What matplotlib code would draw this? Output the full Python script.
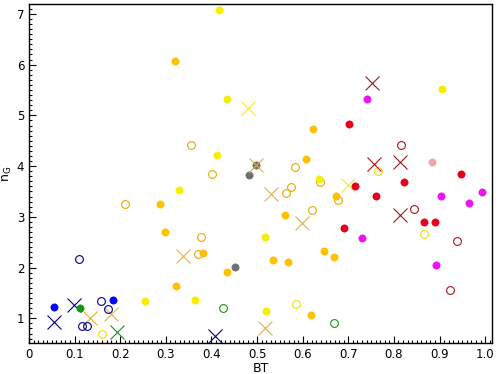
import matplotlib
matplotlib.use("Agg")
import matplotlib.pyplot as plt
from matplotlib.ticker import MultipleLocator, FixedLocator

# ---- data (BT, n_G) per group ----
blue_filled_x = [0.055, 0.184]
blue_filled_y = [1.22, 1.37]
navy_open_x = [0.110, 0.158, 0.173, 0.116, 0.127]
navy_open_y = [2.16, 1.34, 1.18, 0.84, 0.84]
navy_x_x = [0.098, 0.055, 0.408]
navy_x_y = [1.26, 0.93, 0.65]
green_filled_x = [0.112]
green_filled_y = [1.20]
green_open_x = [0.426, 0.668]
green_open_y = [1.20, 0.90]
green_x_x = [0.193]
green_x_y = [0.74]
orange_filled_x = [0.320, 0.623, 0.608, 0.674, 0.561, 0.647, 0.668, 0.535, 0.568,
                   0.618, 0.287, 0.298, 0.382, 0.433, 0.323]
orange_filled_y = [6.07, 4.73, 4.14, 3.41, 3.03, 2.32, 2.20, 2.14, 2.12,
                   1.06, 3.25, 2.70, 2.28, 1.91, 1.63]
orange_open_x = [0.355, 0.401, 0.584, 0.574, 0.563, 0.678, 0.620, 0.211, 0.377, 0.370, 0.637]
orange_open_y = [4.41, 3.84, 3.98, 3.59, 3.47, 3.33, 3.13, 3.25, 2.60, 2.26, 3.69]
orange_x_x = [0.530, 0.599, 0.337, 0.134, 0.180, 0.517, 0.497]
orange_x_y = [3.45, 2.87, 2.22, 1.00, 1.08, 0.80, 4.02]
yellow_filled_x = [0.416, 0.434, 0.906, 0.413, 0.329, 0.636, 0.517, 0.520, 0.254, 0.365]
yellow_filled_y = [7.07, 5.33, 5.52, 4.21, 3.52, 3.74, 2.60, 1.14, 1.34, 1.36]
yellow_open_x = [0.765, 0.866, 0.586, 0.160]
yellow_open_y = [3.90, 2.66, 1.28, 0.70]
yellow_x_x = [0.480, 0.699]
yellow_x_y = [5.15, 3.62]
gray_filled_x = [0.483, 0.497, 0.452]
gray_filled_y = [3.82, 4.02, 2.01]
red_filled_x = [0.702, 0.946, 0.715, 0.821, 0.761, 0.691, 0.866, 0.889]
red_filled_y = [4.83, 3.85, 3.60, 3.68, 3.41, 2.78, 2.89, 2.89]
darkred_open_x = [0.816, 0.843, 0.939, 0.922]
darkred_open_y = [4.41, 3.15, 2.52, 1.55]
darkred_x_x = [0.753, 0.756, 0.814, 0.813]
darkred_x_y = [5.63, 4.04, 4.08, 3.03]
magenta_filled_x = [0.740, 0.903, 0.994, 0.965, 0.729, 0.893]
magenta_filled_y = [5.33, 3.41, 3.49, 3.27, 2.58, 2.05]
pink_filled_x = [0.884]
pink_filled_y = [4.08]

fig = plt.figure(figsize=(5.0, 3.74), dpi=100)
ax = fig.add_axes([0.058, 0.0837, 0.926, 0.905])

FS = 5.2   # filled marker size
OS = 5.6   # open marker size
XS = 10.5  # cross marker size

def filled(x, y, c):
    ax.plot(x, y, 'o', ms=FS, mfc=c, mec=c, mew=0.5, ls='none')

def opened(x, y, c):
    ax.plot(x, y, 'o', ms=OS, mfc='none', mec=c, mew=0.8, ls='none')

def cross(x, y, c):
    ax.plot(x, y, 'x', ms=XS, mec=c, mew=0.8, ls='none')

ORANGE = '#FFC000'
YELLOW = '#F8EE00'
RED = '#E5001A'
DARKRED = '#A8141E'
NAVY = '#000080'
BLUE = '#0000F0'
GREEN = '#109A10'
MAGENTA = '#F010F0'
PINK = '#F0A4AC'
GRAY = '#707070'

opened(orange_open_x, orange_open_y, '#E8A800')
filled(orange_filled_x, orange_filled_y, ORANGE)
filled(gray_filled_x, gray_filled_y, GRAY)
cross(orange_x_x, orange_x_y, '#E8B030')
filled(yellow_filled_x, yellow_filled_y, YELLOW)
opened(yellow_open_x, yellow_open_y, '#F0E000')
cross(yellow_x_x, yellow_x_y, '#F4EC30')
filled(blue_filled_x, blue_filled_y, BLUE)
opened(navy_open_x, navy_open_y, NAVY)
cross(navy_x_x, navy_x_y, NAVY)
filled(green_filled_x, green_filled_y, GREEN)
opened(green_open_x, green_open_y, GREEN)
cross(green_x_x, green_x_y, GREEN)
filled(red_filled_x, red_filled_y, RED)
opened(darkred_open_x, darkred_open_y, DARKRED)
cross(darkred_x_x, darkred_x_y, DARKRED)
filled(magenta_filled_x, magenta_filled_y, MAGENTA)
filled(pink_filled_x, pink_filled_y, PINK)

ax.set_xlim(0, 1.015)
ax.set_ylim(0.52, 7.19)

ax.xaxis.set_major_locator(MultipleLocator(0.1))
ax.xaxis.set_minor_locator(MultipleLocator(0.01))
ax.yaxis.set_major_locator(MultipleLocator(1))
ax.yaxis.set_minor_locator(MultipleLocator(0.1))
xt = [0, 0.1, 0.2, 0.3, 0.4, 0.5, 0.6, 0.7, 0.8, 0.9, 1.0]
ax.set_xticks(xt)
ax.set_xticklabels(['0', '0.1', '0.2', '0.3', '0.4', '0.5', '0.6', '0.7', '0.8', '0.9', '1.0'])

ax.tick_params(which='both', direction='in', top=False, right=False,
               labelsize=8.5, colors='black', width=0.8)
ax.tick_params(which='major', length=5)
ax.tick_params(which='minor', length=2.5)
for s in ax.spines.values():
    s.set_linewidth(1.0)

ax.set_xlabel('BT', fontsize=9, labelpad=1)
ax.set_ylabel(r'n$_\mathrm{G}$', fontsize=9, labelpad=2)

fig.savefig('out.png', dpi=100)
